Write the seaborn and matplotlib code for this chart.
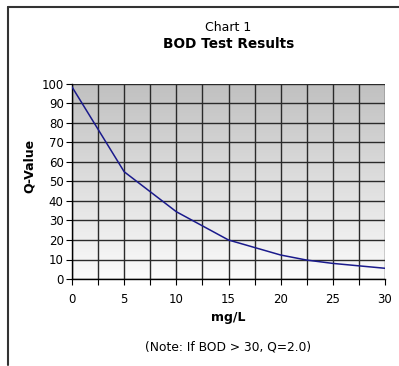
import numpy as np
import pandas as pd
import matplotlib
matplotlib.use("Agg")
import matplotlib.pyplot as plt
from matplotlib.lines import Line2D
from matplotlib.ticker import MultipleLocator
import seaborn as sns

# BOD (mg/L) versus Q-value curve
bod = [0, 5, 10, 15, 20, 22.5, 25, 30]
q_value = [98.5, 55, 34.5, 20, 12.3, 9.7, 8, 5.5]
x_ticks = [0, 5, 10, 15, 20, 25, 30]
y_ticks = [0, 10, 20, 30, 40, 50, 60, 70, 80, 90, 100]

sns.set_theme(style="white")
plt.rcParams["font.family"] = ["DejaVu Sans"]
plt.rcParams["text.color"] = "black"

W, H = 399, 366
dpi = 100
fig = plt.figure(figsize=(W / dpi, H / dpi), dpi=dpi)
fig.patch.set_facecolor("white")

# axes placement in pixels
left, right, top, bottom = 72, 385, 84, 279
ax = fig.add_axes([left / W, 1 - bottom / H, (right - left) / W, (bottom - top) / H])

# vertical gray-to-white gradient behind the plot
grad = np.linspace(0, 1, 256).reshape(-1, 1)
ax.imshow(grad, extent=[0, 30, 0, 100], aspect="auto", origin="upper",
          cmap=matplotlib.colors.LinearSegmentedColormap.from_list(
              "bg", ["#c0c0c0", "#fbfbfb"]), zorder=0)

df = pd.DataFrame({"mg/L": bod, "Q-Value": q_value})
sns.lineplot(data=df, x="mg/L", y="Q-Value", ax=ax, color="#1a1a8c",
             linewidth=1.1, zorder=3)

ax.set_xlim(0, 30)
ax.set_ylim(0, 100)
ax.set_xticks(x_ticks)
ax.set_yticks(y_ticks)
ax.xaxis.set_minor_locator(MultipleLocator(2.5))

ax.grid(True, which="both", axis="x", color="#2a2a2a", linewidth=1.0)
ax.grid(True, which="major", axis="y", color="#2a2a2a", linewidth=1.0)
for ln in ax.get_xgridlines() + ax.get_ygridlines():
    ln.set_zorder(1)

for side in ["top", "right"]:
    ax.spines[side].set_visible(False)
for side in ["left", "bottom"]:
    ax.spines[side].set_color("black")
    ax.spines[side].set_linewidth(1.0)

ax.tick_params(axis="both", which="both", direction="out", length=4,
               width=0.8, color="black", labelsize=8.5, labelcolor="black",
               bottom=True, left=True)
ax.tick_params(axis="x", which="major", pad=6)
ax.tick_params(axis="y", which="major", pad=2)

ax.set_xlabel("mg/L", fontsize=9, fontweight="bold", color="black")
ax.xaxis.set_label_coords(0.5, -(318 - bottom) / (bottom - top))
ax.xaxis.label.set_va("center")
ax.set_ylabel("Q-Value", fontsize=9, fontweight="bold", color="black")
ax.yaxis.set_label_coords(-(left - 29) / (right - left), (bottom - 166) / (bottom - top))
ax.yaxis.label.set_va("center")

# titles and note
cx = (left + right) / 2 / W
fig.text(cx, 1 - 27.5 / H, "Chart 1", ha="center", va="center", fontsize=9,
         color="black")
fig.text(cx, 1 - 44 / H, "BOD Test Results", ha="center", va="center",
         fontsize=9.8, fontweight="bold", color="black")
fig.text(cx, 1 - 347 / H, "(Note: If BOD > 30, Q=2.0)", ha="center",
         va="center", fontsize=8.8, color="black")

# outer frame lines
fig.add_artist(Line2D([7.5 / W, 1], [1 - 6.5 / H, 1 - 6.5 / H],
                      transform=fig.transFigure, color="#333333", linewidth=1.5))
fig.add_artist(Line2D([7.5 / W, 7.5 / W], [1 - 6.5 / H, 1 - 365 / H],
                      transform=fig.transFigure, color="#333333", linewidth=1.5))

fig.savefig("out.png", dpi=dpi)
